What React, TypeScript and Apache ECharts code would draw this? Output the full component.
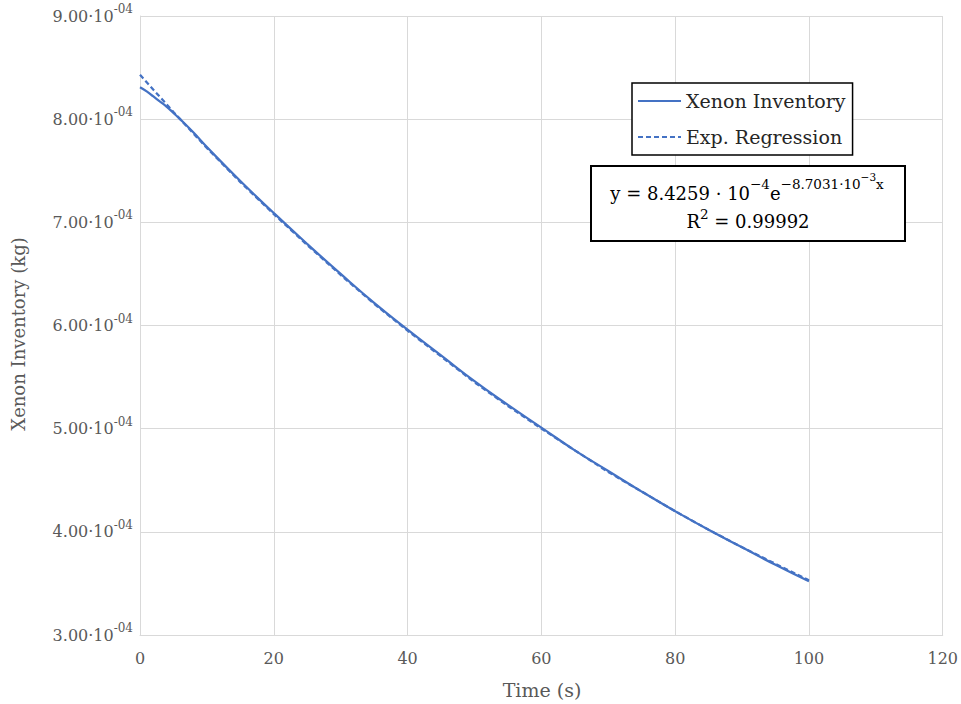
import React, { useEffect, useRef } from "react";
import * as echarts from "echarts";

// Simulated xenon inventory over time (kg)
const timeS = [0, 1, 2, 3, 4, 5, 6, 8, 10, 15, 20, 25, 30, 35, 40, 45, 50, 55, 60, 65, 70, 75, 80, 85, 90, 95, 100];
const xenonKg = [
  8.31e-4, 8.27e-4, 8.22e-4, 8.17e-4, 8.12e-4, 8.06e-4, 8.0e-4, 7.87e-4, 7.73e-4, 7.4e-4,
  7.09e-4, 6.79e-4, 6.5e-4, 6.22e-4, 5.96e-4, 5.71e-4, 5.46e-4, 5.23e-4, 5.01e-4, 4.79e-4,
  4.59e-4, 4.39e-4, 4.2e-4, 4.02e-4, 3.85e-4, 3.68e-4, 3.52e-4,
];

// Exponential regression curve sampled every 5 s (kg)
const fitTimeS = [0, 5, 10, 15, 20, 25, 30, 35, 40, 45, 50, 55, 60, 65, 70, 75, 80, 85, 90, 95, 100];
const fitKg = [
  8.43e-4, 8.07e-4, 7.72e-4, 7.39e-4, 7.08e-4, 6.78e-4, 6.49e-4, 6.21e-4, 5.95e-4, 5.7e-4,
  5.45e-4, 5.22e-4, 5.0e-4, 4.79e-4, 4.58e-4, 4.39e-4, 4.2e-4, 4.02e-4, 3.85e-4, 3.69e-4, 3.53e-4,
];

const seriesNames = ["Xenon Inventory", "Exp. Regression"];
const xAxisTitle = "Time (s)";
const yAxisTitle = "Xenon Inventory (kg)";
const fitEquation = "{m|y = 8.4259 · 10}{s|−4}{m|e}{s|−8.7031·10}{t|−3}{s|x}";
const fitR2 = "{m|R}{s|2}{m| = 0.99992}";

const FONT = "DejaVu Serif";
const LABEL = "#595959";
const DARK = "#262626";
const BLUE = "#4472C4";
const GRID = "#d9d9d9";

export default function App() {
  const ref = useRef<HTMLDivElement>(null);

  useEffect(() => {
    if (!ref.current) return;
    const chart = echarts.init(ref.current, null, { renderer: "svg" });

    const solid = timeS.map((t, i) => [t, xenonKg[i]]);
    const fit = fitTimeS.map((t, i) => [t, fitKg[i]]);

    chart.setOption({
      animation: false,
      backgroundColor: "#ffffff",
      textStyle: { fontFamily: FONT },
      grid: { left: 140, right: 16, top: 16, bottom: 69, containLabel: false },
      xAxis: {
        type: "value",
        min: 0,
        max: 120,
        interval: 20,
        axisLine: { show: true, lineStyle: { color: GRID, width: 1 } },
        axisTick: { show: false },
        splitLine: { show: true, lineStyle: { color: GRID, width: 1 } },
        axisLabel: { color: LABEL, fontFamily: FONT, fontSize: 16, margin: 15 },
      },
      yAxis: {
        type: "value",
        min: 3e-4,
        max: 9e-4,
        interval: 1e-4,
        axisLine: { show: true, lineStyle: { color: GRID, width: 1 } },
        axisTick: { show: false },
        splitLine: { show: true, lineStyle: { color: GRID, width: 1 } },
        axisLabel: {
          margin: 7,
          formatter: (v: number) => `{m|${(v * 1e4).toFixed(2)}·10}{s|-04}`,
          rich: {
            m: { fontFamily: FONT, fontSize: 16, color: LABEL, lineHeight: 26, verticalAlign: "middle" },
            s: { fontFamily: FONT, fontSize: 12, color: LABEL, verticalAlign: "top" },
          },
        },
      },
      legend: {
        orient: "vertical",
        left: 632,
        top: 83,
        padding: [7, 7, 7, 5],
        itemGap: 14,
        itemWidth: 43,
        itemHeight: 14,
        backgroundColor: "#ffffff",
        borderColor: "#000000",
        borderWidth: 1.5,
        itemStyle: { opacity: 0 },
        textStyle: { fontFamily: FONT, fontSize: 19, color: DARK, lineHeight: 22 },
        data: seriesNames,
        z: 20,
      },
      series: [
        {
          name: seriesNames[1],
          type: "line",
          data: fit,
          symbol: "none",
          smooth: false,
          lineStyle: { color: BLUE, width: 2.25, type: [5, 3] },
          itemStyle: { color: BLUE },
          z: 3,
        },
        {
          name: seriesNames[0],
          type: "line",
          data: solid,
          symbol: "none",
          smooth: true,
          lineStyle: { color: BLUE, width: 2.25 },
          itemStyle: { color: BLUE },
          z: 2,
        },
      ],
      graphic: [
        {
          type: "rect",
          shape: { x: 591, y: 166, width: 314, height: 75 },
          style: { fill: "#ffffff", stroke: "#000000", lineWidth: 2 },
          z: 100,
        },
        {
          type: "text",
          x: 747,
          y: 193,
          z: 101,
          style: {
            text: fitEquation,
            align: "center",
            verticalAlign: "middle",
            rich: {
              m: { fontFamily: FONT, fontSize: 18, color: DARK, lineHeight: 36, verticalAlign: "middle" },
              s: { fontFamily: FONT, fontSize: 13.5, color: DARK, verticalAlign: "top", height: 18 },
              t: { fontFamily: FONT, fontSize: 10.5, color: DARK, verticalAlign: "top", height: 4 },
            },
          },
        },
        {
          type: "text",
          x: 748,
          y: 221,
          z: 101,
          style: {
            text: fitR2,
            align: "center",
            verticalAlign: "middle",
            rich: {
              m: { fontFamily: FONT, fontSize: 18, color: DARK, lineHeight: 30, verticalAlign: "middle" },
              s: { fontFamily: FONT, fontSize: 13.5, color: DARK, verticalAlign: "top", height: 16 },
            },
          },
        },
        {
          type: "text",
          x: 542,
          y: 690,
          style: {
            text: xAxisTitle,
            align: "center",
            verticalAlign: "middle",
            fontFamily: FONT,
            fontSize: 19,
            fill: LABEL,
          },
        },
        {
          type: "text",
          x: 18,
          y: 334,
          rotation: Math.PI / 2,
          style: {
            text: yAxisTitle,
            align: "center",
            verticalAlign: "middle",
            fontFamily: FONT,
            fontSize: 18,
            fill: LABEL,
          },
        },
      ],
    });

    return () => chart.dispose();
  }, []);

  return (
    <div
      ref={ref}
      style={{ position: "fixed", left: 0, top: 0, width: 961, height: 704 }}
    />
  );
}
